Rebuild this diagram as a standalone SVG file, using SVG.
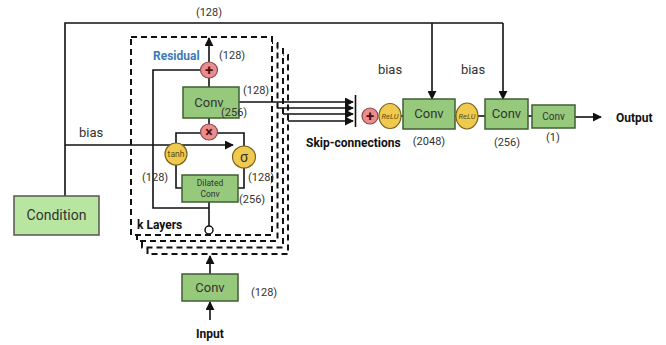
<svg xmlns="http://www.w3.org/2000/svg" width="666" height="345" viewBox="0 0 666 345">
<style>
.t{font-family:Roboto,"Liberation Sans",sans-serif;fill:#333;}
.b{font-weight:bold;fill:#111;}
.box{fill:#97c97c;stroke:#3f5f34;stroke-width:1.5;}
.pink{fill:#ea8d8f;stroke:#8a4a4a;stroke-width:1.2;}
.yel{fill:#efca4e;stroke:#7a6220;stroke-width:1.2;}
.ln{fill:none;stroke:#111;stroke-width:1.6;}
.sym{fill:none;stroke:#4a1010;stroke-width:2;}
.dash{fill:#fff;stroke:#111;stroke-width:2;stroke-dasharray:6 4;}
</style>
<defs>
<marker id="ah" viewBox="0 0 10 10" refX="9" refY="5" markerWidth="9" markerHeight="9" markerUnits="userSpaceOnUse" orient="auto">
<path d="M0,0 L10,5 L0,10 z" fill="#111"/>
</marker>
</defs>
<rect width="666" height="345" fill="#fff"/>

<g id="stack">
<rect class="dash" x="147.5" y="55" width="140.5" height="199"/>
<rect class="dash" x="142" y="49" width="141" height="198.5"/>
<rect class="dash" x="137" y="43" width="140.5" height="198"/>
<rect class="dash" x="131" y="37" width="141" height="198"/>
<text class="t b" x="137" y="229" font-size="12">k Layers</text>
</g>

<g id="connectors">
<polyline class="ln" points="65,196 65,23 503,23"/>
<line class="ln" x1="432" y1="23" x2="432" y2="99" marker-end="url(#ah)"/>
<line class="ln" x1="503" y1="23" x2="503" y2="99" marker-end="url(#ah)"/>
<line class="ln" x1="65" y1="145" x2="233" y2="145" marker-end="url(#ah)"/>
<line class="ln" x1="209" y1="62" x2="209" y2="38" marker-end="url(#ah)"/>
<line class="ln" x1="209" y1="78" x2="209" y2="87"/>
<line class="ln" x1="209" y1="118" x2="209" y2="125"/>
<polyline class="ln" points="200,70 153,70 153,208 209,208"/>
<line class="ln" x1="209" y1="202" x2="209" y2="226"/>
<polyline class="ln" points="176,143 176,133 244,133 244,146"/>
<polyline class="ln" points="176,165 176,188 182,188"/>
<polyline class="ln" points="244,168 244,188 238,188"/>
<line class="ln" x1="239" y1="102" x2="353" y2="102" marker-end="url(#ah)"/>
<line class="ln" x1="277.5" y1="108" x2="353" y2="108" marker-end="url(#ah)"/>
<line class="ln" x1="283" y1="114" x2="353" y2="114" marker-end="url(#ah)"/>
<line class="ln" x1="288" y1="121" x2="353" y2="121" marker-end="url(#ah)"/>
<line class="ln" x1="355.5" y1="95" x2="355.5" y2="127"/>
<line class="ln" x1="210" y1="274" x2="210" y2="256" marker-end="url(#ah)"/>
<line class="ln" x1="210" y1="320" x2="210" y2="302" marker-end="url(#ah)"/>
<line class="ln" x1="401" y1="116" x2="403" y2="116"/>
<line class="ln" x1="455" y1="116" x2="456" y2="116"/>
<line class="ln" x1="478" y1="116" x2="485" y2="116"/>
<line class="ln" x1="528" y1="116" x2="532" y2="116"/>
<line class="ln" x1="575" y1="117" x2="601" y2="117" marker-end="url(#ah)"/>
</g>

<g id="condition">
<rect x="14" y="196" width="85" height="39" fill="#b8e6a0" stroke="#555" stroke-width="1.5"/>
<text class="t" x="56.5" y="220" font-size="14" text-anchor="middle" fill="#222">Condition</text>
</g>

<g id="residual-add">
<ellipse class="pink" cx="209" cy="70" rx="8.5" ry="8"/>
<text class="t" x="209" y="75" font-size="15" font-weight="bold" text-anchor="middle" style="fill:#4a1010">+</text>
<text class="t" x="153" y="60" font-size="12" font-weight="bold" style="fill:#3d7ab8">Residual</text>
<text class="t" x="219" y="59" font-size="11">(128)</text>
</g>

<g id="conv-inner">
<rect class="box" x="183" y="87" width="56" height="31"/>
<text class="t" x="209" y="107" font-size="13" text-anchor="middle">Conv</text>
<text class="t" x="243" y="94" font-size="11">(128)</text>
<text class="t" x="221" y="116" font-size="11">(256)</text>
</g>

<g id="multiply">
<ellipse class="pink" cx="209" cy="132" rx="8.5" ry="8"/>
<text class="t" x="209" y="137" font-size="14" font-weight="bold" text-anchor="middle" style="fill:#4a1010">×</text>
</g>

<g id="tanh">
<ellipse class="yel" cx="176" cy="154" rx="11" ry="11"/>
<text class="t" x="176" y="157" font-size="8.5" text-anchor="middle" style="fill:#5a4a10">tanh</text>
<text class="t" x="142" y="181" font-size="11">(128)</text>
</g>

<g id="sigma">
<ellipse class="yel" cx="244" cy="157" rx="11.5" ry="11"/>
<text class="t" x="244" y="161.5" font-size="14" text-anchor="middle">σ</text>
<text class="t" x="248" y="181" font-size="11">(128)</text>
</g>

<g id="dilated-conv">
<rect class="box" x="182" y="175" width="56" height="27"/>
<text class="t" x="210" y="186" font-size="8.5" text-anchor="middle">Dilated</text>
<text class="t" x="210" y="197" font-size="8.5" text-anchor="middle">Conv</text>
<text class="t" x="239" y="203" font-size="11">(256)</text>
</g>

<g id="input-node">
<circle cx="209" cy="230" r="4" fill="#fff" stroke="#111" stroke-width="1.5"/>
</g>

<g id="conv-input">
<rect class="box" x="182" y="274" width="56" height="27"/>
<text class="t" x="210" y="292" font-size="13" text-anchor="middle">Conv</text>
<text class="t" x="251" y="296" font-size="11">(128)</text>
<text class="t b" x="210" y="338" font-size="12" text-anchor="middle">Input</text>
</g>

<g id="skip-add">
<ellipse class="pink" cx="370" cy="116" rx="8" ry="8"/>
<text class="t" x="370" y="121" font-size="15" font-weight="bold" text-anchor="middle" style="fill:#4a1010">+</text>
<text class="t b" x="306" y="147" font-size="12">Skip-connections</text>
</g>

<g id="relu1">
<ellipse class="yel" cx="390" cy="116" rx="11" ry="12.5"/>
<text class="t" x="390" y="119" font-size="7.5" font-style="italic" text-anchor="middle" style="fill:#5a4a10">ReLU</text>
</g>

<g id="conv-2048">
<rect class="box" x="403" y="99" width="52" height="30"/>
<text class="t" x="429" y="118" font-size="13" text-anchor="middle">Conv</text>
<text class="t" x="429" y="145" font-size="11" text-anchor="middle">(2048)</text>
<text class="t" x="390" y="74" font-size="13" text-anchor="middle" fill="#222">bias</text>
</g>

<g id="relu2">
<ellipse class="yel" cx="467" cy="116" rx="11" ry="13"/>
<text class="t" x="467" y="119" font-size="7.5" font-style="italic" text-anchor="middle" style="fill:#5a4a10">ReLU</text>
</g>

<g id="conv-256">
<rect class="box" x="485" y="99" width="43" height="30"/>
<text class="t" x="506.5" y="118" font-size="13" text-anchor="middle">Conv</text>
<text class="t" x="507" y="146" font-size="11" text-anchor="middle">(256)</text>
<text class="t" x="473" y="74" font-size="13" text-anchor="middle" fill="#222">bias</text>
</g>

<g id="conv-1">
<rect class="box" x="532" y="105" width="43" height="23"/>
<text class="t" x="553.5" y="120" font-size="10" text-anchor="middle">Conv</text>
<text class="t" x="553" y="141" font-size="11" text-anchor="middle">(1)</text>
</g>

<g id="output">
<text class="t b" x="616" y="121.5" font-size="12">Output</text>
</g>

<g id="top-label">
<text class="t" x="209" y="16" font-size="11" text-anchor="middle">(128)</text>
<text class="t" x="79" y="137" font-size="13" fill="#222">bias</text>
</g>
</svg>
